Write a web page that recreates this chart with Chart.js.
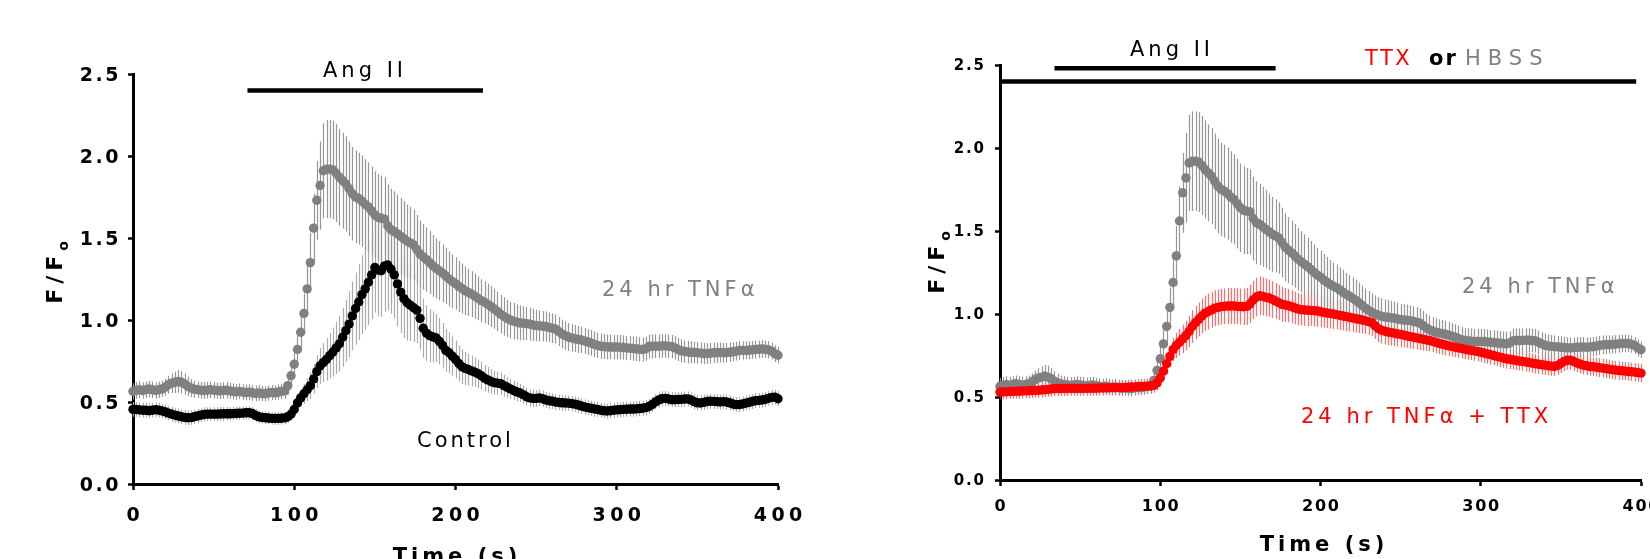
<!DOCTYPE html>
<html>
<head>
<meta charset="utf-8">
<script src="https://cdn.jsdelivr.net/npm/chart.js@4.4.1/dist/chart.umd.min.js"></script>
<style>
    html, body { margin: 0; padding: 0; background: #fff; width: 1650px; height: 559px; overflow: hidden; }
    canvas { position: absolute; top: 0; }
    #left { left: 0; }
    #right { left: 866px; }
</style>
</head>
<body>
<canvas id="left" width="866" height="559"></canvas>
<canvas id="right" width="800" height="559"></canvas>
<script>
// time axis, one sample every 2 s
const TIME = [
    0,2,4,6,8,10,12,14,16,18,20,22,24,26,28,30,32,34,36,38,
    40,42,44,46,48,50,52,54,56,58,60,62,64,66,68,70,72,74,76,78,
    80,82,84,86,88,90,92,94,96,98,100,102,104,106,108,110,112,114,116,118,
    120,122,124,126,128,130,132,134,136,138,140,142,144,146,148,150,152,154,156,158,
    160,162,164,166,168,170,172,174,176,178,180,182,184,186,188,190,192,194,196,198,
    200,202,204,206,208,210,212,214,216,218,220,222,224,226,228,230,232,234,236,238,
    240,242,244,246,248,250,252,254,256,258,260,262,264,266,268,270,272,274,276,278,
    280,282,284,286,288,290,292,294,296,298,300,302,304,306,308,310,312,314,316,318,
    320,322,324,326,328,330,332,334,336,338,340,342,344,346,348,350,352,354,356,358,
    360,362,364,366,368,370,372,374,376,378,380,382,384,386,388,390,392,394,396,398,
    400
];

// 24 hr TNFα (grey, same trace in both panels)
const TNF = [
    0.565,0.570,0.575,0.570,0.575,0.580,0.575,0.570,0.575,0.580,
    0.590,0.605,0.615,0.620,0.625,0.620,0.610,0.595,0.585,0.578,
    0.575,0.572,0.570,0.572,0.575,0.572,0.570,0.568,0.570,0.572,
    0.568,0.565,0.562,0.565,0.560,0.558,0.560,0.556,0.552,0.555,
    0.552,0.550,0.555,0.558,0.556,0.560,0.565,0.568,0.600,0.660,
    0.730,0.820,0.925,1.040,1.190,1.350,1.560,1.730,1.820,1.910,
    1.920,1.920,1.915,1.895,1.870,1.850,1.830,1.800,1.770,1.750,
    1.740,1.725,1.705,1.690,1.665,1.640,1.625,1.620,1.615,1.575,
    1.550,1.540,1.525,1.510,1.495,1.480,1.470,1.458,1.430,1.402,
    1.385,1.368,1.350,1.330,1.315,1.300,1.285,1.268,1.250,1.235,
    1.222,1.205,1.192,1.178,1.168,1.158,1.145,1.132,1.118,1.108,
    1.095,1.082,1.068,1.052,1.035,1.022,1.010,1.000,0.993,0.987,
    0.982,0.980,0.978,0.975,0.970,0.966,0.964,0.962,0.960,0.955,
    0.950,0.945,0.930,0.915,0.905,0.896,0.890,0.886,0.882,0.878,
    0.872,0.866,0.860,0.852,0.845,0.840,0.838,0.836,0.835,0.835,
    0.835,0.834,0.832,0.830,0.828,0.826,0.824,0.822,0.820,0.825,
    0.838,0.840,0.840,0.841,0.842,0.842,0.840,0.838,0.830,0.820,
    0.812,0.808,0.805,0.803,0.802,0.800,0.798,0.796,0.795,0.797,
    0.800,0.800,0.801,0.800,0.801,0.803,0.806,0.810,0.814,0.815,
    0.815,0.816,0.818,0.820,0.822,0.823,0.822,0.818,0.810,0.795,
    0.785
];
const TNF_SEM = [
    0.050,0.050,0.050,0.050,0.050,0.050,0.050,0.050,0.050,0.050,
    0.052,0.055,0.060,0.065,0.068,0.068,0.065,0.060,0.055,0.052,
    0.050,0.050,0.050,0.050,0.050,0.050,0.050,0.050,0.050,0.050,
    0.048,0.048,0.048,0.048,0.048,0.048,0.048,0.048,0.048,0.048,
    0.046,0.046,0.046,0.046,0.046,0.046,0.046,0.048,0.055,0.065,
    0.070,0.085,0.100,0.120,0.150,0.180,0.210,0.240,0.270,0.290,
    0.300,0.300,0.300,0.298,0.295,0.292,0.290,0.288,0.285,0.282,
    0.280,0.278,0.275,0.272,0.270,0.267,0.264,0.260,0.256,0.252,
    0.250,0.245,0.240,0.235,0.230,0.225,0.220,0.215,0.210,0.205,
    0.200,0.196,0.192,0.188,0.184,0.180,0.176,0.172,0.168,0.164,
    0.160,0.156,0.152,0.148,0.144,0.140,0.137,0.134,0.131,0.128,
    0.126,0.124,0.122,0.120,0.118,0.116,0.114,0.112,0.110,0.108,
    0.106,0.104,0.102,0.100,0.098,0.096,0.094,0.093,0.092,0.091,
    0.090,0.089,0.088,0.087,0.086,0.085,0.084,0.083,0.082,0.081,
    0.080,0.079,0.078,0.078,0.077,0.077,0.076,0.076,0.075,0.075,
    0.075,0.075,0.075,0.074,0.074,0.074,0.074,0.073,0.073,0.073,
    0.073,0.073,0.072,0.072,0.072,0.072,0.071,0.071,0.071,0.070,
    0.070,0.069,0.068,0.067,0.066,0.066,0.065,0.064,0.063,0.062,
    0.062,0.061,0.060,0.060,0.059,0.058,0.058,0.057,0.056,0.056,
    0.055,0.055,0.054,0.054,0.053,0.053,0.052,0.052,0.051,0.051,
    0.050
];

// Control (black, left panel)
const CONTROL = [
    0.455,0.455,0.452,0.450,0.450,0.447,0.450,0.453,0.450,0.446,
    0.440,0.432,0.425,0.420,0.415,0.410,0.406,0.404,0.405,0.410,
    0.415,0.420,0.424,0.426,0.426,0.426,0.426,0.427,0.428,0.428,
    0.428,0.429,0.430,0.431,0.432,0.434,0.434,0.430,0.418,0.410,
    0.406,0.404,0.402,0.400,0.400,0.400,0.401,0.403,0.410,0.425,
    0.455,0.495,0.525,0.550,0.575,0.600,0.640,0.685,0.720,0.740,
    0.760,0.783,0.805,0.830,0.855,0.895,0.935,0.975,1.025,1.070,
    1.110,1.155,1.190,1.230,1.275,1.320,1.305,1.300,1.330,1.335,
    1.310,1.275,1.220,1.170,1.130,1.105,1.090,1.075,1.060,1.010,
    0.950,0.920,0.905,0.897,0.890,0.870,0.845,0.815,0.800,0.780,
    0.760,0.735,0.715,0.705,0.698,0.690,0.682,0.672,0.660,0.645,
    0.635,0.625,0.618,0.615,0.612,0.600,0.590,0.580,0.570,0.562,
    0.555,0.545,0.532,0.525,0.522,0.522,0.525,0.520,0.512,0.508,
    0.505,0.500,0.497,0.495,0.494,0.493,0.490,0.487,0.482,0.476,
    0.470,0.466,0.462,0.458,0.455,0.450,0.447,0.445,0.447,0.450,
    0.452,0.453,0.455,0.456,0.457,0.457,0.458,0.460,0.462,0.466,
    0.473,0.485,0.500,0.512,0.520,0.522,0.518,0.514,0.514,0.515,
    0.516,0.518,0.518,0.512,0.502,0.495,0.494,0.498,0.503,0.505,
    0.504,0.502,0.500,0.502,0.500,0.495,0.488,0.484,0.484,0.488,
    0.493,0.498,0.503,0.508,0.510,0.512,0.515,0.522,0.528,0.530,
    0.520
];
const CONTROL_SEM = [
    0.045,0.045,0.045,0.045,0.045,0.045,0.045,0.045,0.045,0.045,
    0.045,0.045,0.045,0.045,0.045,0.045,0.045,0.045,0.045,0.045,
    0.042,0.042,0.042,0.042,0.042,0.042,0.042,0.042,0.042,0.042,
    0.040,0.040,0.040,0.040,0.040,0.040,0.040,0.040,0.040,0.040,
    0.038,0.038,0.038,0.038,0.038,0.038,0.038,0.038,0.038,0.038,
    0.040,0.045,0.050,0.060,0.070,0.080,0.090,0.100,0.110,0.120,
    0.130,0.140,0.150,0.160,0.170,0.180,0.190,0.200,0.210,0.220,
    0.230,0.240,0.250,0.260,0.270,0.275,0.280,0.280,0.280,0.275,
    0.270,0.265,0.260,0.250,0.240,0.230,0.220,0.210,0.200,0.190,
    0.180,0.170,0.162,0.155,0.148,0.142,0.136,0.130,0.125,0.120,
    0.115,0.110,0.106,0.102,0.098,0.094,0.090,0.087,0.084,0.081,
    0.078,0.075,0.072,0.070,0.068,0.066,0.064,0.062,0.060,0.058,
    0.056,0.055,0.054,0.053,0.052,0.051,0.050,0.050,0.049,0.049,
    0.048,0.048,0.048,0.048,0.048,0.047,0.047,0.047,0.047,0.047,
    0.046,0.046,0.046,0.046,0.046,0.046,0.046,0.046,0.046,0.046,
    0.046,0.046,0.046,0.046,0.046,0.046,0.046,0.046,0.046,0.046,
    0.046,0.046,0.046,0.046,0.046,0.046,0.046,0.046,0.046,0.046,
    0.046,0.046,0.046,0.046,0.046,0.046,0.046,0.046,0.046,0.046,
    0.045,0.045,0.045,0.045,0.045,0.045,0.045,0.045,0.045,0.045,
    0.045,0.045,0.045,0.045,0.045,0.045,0.045,0.045,0.045,0.045,
    0.045
];

// 24 hr TNFα + TTX (red, right panel)
const TNF_TTX = [
    0.530,0.531,0.532,0.533,0.534,0.535,0.535,0.536,0.537,0.538,
    0.539,0.540,0.541,0.542,0.544,0.546,0.548,0.550,0.551,0.551,
    0.551,0.551,0.552,0.552,0.552,0.552,0.552,0.552,0.553,0.553,
    0.553,0.554,0.554,0.555,0.555,0.556,0.556,0.557,0.557,0.558,
    0.559,0.560,0.561,0.562,0.563,0.564,0.565,0.566,0.570,0.585,
    0.615,0.655,0.700,0.745,0.785,0.810,0.830,0.850,0.870,0.895,
    0.925,0.948,0.968,0.988,1.005,1.015,1.025,1.035,1.040,1.044,
    1.046,1.048,1.048,1.048,1.046,1.045,1.044,1.046,1.060,1.085,
    1.102,1.110,1.106,1.100,1.096,1.088,1.078,1.068,1.058,1.054,
    1.050,1.044,1.036,1.030,1.026,1.024,1.023,1.022,1.020,1.018,
    1.014,1.010,1.006,1.003,1.000,0.996,0.992,0.988,0.984,0.980,
    0.976,0.972,0.968,0.964,0.960,0.954,0.948,0.930,0.912,0.902,
    0.897,0.892,0.888,0.884,0.880,0.877,0.873,0.868,0.864,0.860,
    0.856,0.852,0.848,0.844,0.840,0.835,0.829,0.823,0.818,0.813,
    0.808,0.804,0.800,0.796,0.792,0.788,0.784,0.781,0.778,0.774,
    0.770,0.765,0.760,0.755,0.750,0.745,0.740,0.735,0.730,0.727,
    0.724,0.720,0.717,0.714,0.711,0.708,0.704,0.700,0.697,0.694,
    0.692,0.689,0.686,0.684,0.690,0.702,0.714,0.721,0.722,0.714,
    0.705,0.698,0.692,0.688,0.684,0.682,0.680,0.677,0.674,0.671,
    0.668,0.665,0.662,0.660,0.658,0.656,0.654,0.652,0.650,0.647,
    0.644
];
const TNF_TTX_SEM = [
    0.045,0.045,0.045,0.045,0.045,0.045,0.045,0.045,0.045,0.045,
    0.045,0.045,0.045,0.045,0.045,0.045,0.045,0.045,0.045,0.045,
    0.045,0.045,0.045,0.045,0.045,0.045,0.045,0.045,0.045,0.045,
    0.045,0.045,0.045,0.045,0.045,0.045,0.045,0.045,0.045,0.045,
    0.045,0.045,0.045,0.045,0.045,0.045,0.045,0.045,0.045,0.045,
    0.050,0.055,0.060,0.065,0.070,0.075,0.080,0.085,0.090,0.095,
    0.098,0.100,0.102,0.104,0.106,0.108,0.108,0.108,0.108,0.108,
    0.108,0.108,0.108,0.108,0.108,0.109,0.110,0.112,0.114,0.115,
    0.116,0.116,0.115,0.114,0.112,0.110,0.108,0.106,0.104,0.102,
    0.100,0.099,0.098,0.097,0.096,0.096,0.095,0.095,0.095,0.095,
    0.094,0.093,0.092,0.091,0.090,0.089,0.088,0.087,0.086,0.085,
    0.084,0.083,0.082,0.082,0.081,0.081,0.080,0.080,0.080,0.080,
    0.080,0.079,0.078,0.077,0.076,0.075,0.074,0.073,0.072,0.071,
    0.070,0.069,0.068,0.067,0.066,0.065,0.064,0.064,0.063,0.063,
    0.062,0.062,0.061,0.061,0.060,0.060,0.060,0.060,0.060,0.060,
    0.060,0.060,0.060,0.060,0.059,0.059,0.059,0.059,0.059,0.059,
    0.058,0.058,0.058,0.058,0.058,0.058,0.058,0.058,0.058,0.058,
    0.058,0.058,0.058,0.058,0.057,0.057,0.057,0.057,0.057,0.057,
    0.056,0.056,0.056,0.056,0.056,0.056,0.056,0.056,0.056,0.056,
    0.056,0.056,0.056,0.056,0.055,0.055,0.055,0.055,0.055,0.055,
    0.055
];

const X_TICKS = [0, 100, 200, 300, 400];
const Y_TICKS = [0, 0.5, 1.0, 1.5, 2.0, 2.5];

// treatment bars: [start s, end s, F/Fo level]
const ANG_LEFT  = [71, 217, 2.4];
const ANG_RIGHT = [34, 172, 2.48];
const TTX_BAR   = [0, 397, 2.4];

const FONT = '"DejaVu Sans", sans-serif';

function points(values) {
    return TIME.map((t, i) => ({ x: t, y: values[i] }));
}

function text(ctx, str, x, y, size, color, spacing, align, weight) {
    ctx.save();
    ctx.font = (weight || 'normal') + ' ' + size + 'px ' + FONT;
    ctx.fillStyle = color;
    ctx.letterSpacing = spacing + 'px';
    ctx.textAlign = align || 'left';
    ctx.textBaseline = 'alphabetic';
    const shift = align === 'center' ? spacing / 2 : align === 'right' ? spacing : 0;
    ctx.fillText(str, x + shift, y);
    ctx.restore();
}

function yTitle(ctx, bx, cy) {
    ctx.save();
    ctx.translate(bx, cy);
    ctx.rotate(-Math.PI / 2);
    ctx.fillStyle = '#000';
    ctx.letterSpacing = '5px';
    ctx.font = 'bold 22px ' + FONT;
    const w1 = ctx.measureText('F/F').width;
    ctx.font = 'bold 14px ' + FONT;
    const w2 = ctx.measureText('o').width;
    const x0 = -(w1 + w2) / 2;
    ctx.font = 'bold 22px ' + FONT;
    ctx.fillText('F/F', x0, 0);
    ctx.font = 'bold 14px ' + FONT;
    ctx.fillText('o', x0 + w1, 6);
    ctx.restore();
}

function bar(chart, b) {
    const { ctx, scales: { x, y } } = chart;
    const py = y.getPixelForValue(b[2]);
    ctx.save();
    ctx.strokeStyle = '#000';
    ctx.lineWidth = 4.5;
    ctx.beginPath();
    ctx.moveTo(x.getPixelForValue(b[0]), py);
    ctx.lineTo(x.getPixelForValue(b[1]), py);
    ctx.stroke();
    ctx.restore();
}

// SEM whiskers under the dots
const errorBars = {
    id: 'errorBars',
    beforeDatasetsDraw(chart) {
        const { ctx, scales: { x, y } } = chart;
        ctx.save();
        ctx.lineWidth = 1.2;
        chart.data.datasets.forEach(ds => {
            ctx.strokeStyle = ds.semColor;
            ctx.beginPath();
            ds.data.forEach((p, i) => {
                const px = Math.round(x.getPixelForValue(p.x)) + 0.5;
                ctx.moveTo(px, y.getPixelForValue(p.y + ds.sem[i]));
                ctx.lineTo(px, y.getPixelForValue(p.y - ds.sem[i]));
            });
            ctx.stroke();
        });
        ctx.restore();
    }
};

// tick labels, titles, bars and series names
function decor(cfg) {
    return {
        id: 'decor',
        afterDraw(chart) {
            const { ctx, scales: { x, y } } = chart;
            const o = cfg.offset;
            y.ticks.forEach(t => {
                text(ctx, t.value.toFixed(1), cfg.yRight - o, y.getPixelForValue(t.value) + cfg.yFont * 0.365,
                    cfg.yFont, '#000', cfg.ySpace, 'right', 'bold');
            });
            x.ticks.forEach(t => {
                text(ctx, String(t.value), x.getPixelForValue(t.value), cfg.xBase,
                    cfg.xFont, '#000', cfg.xSpace, 'center', 'bold');
            });
            yTitle(ctx, cfg.yTitle[0] - o, cfg.yTitle[1]);
            text(ctx, 'Time (s)', cfg.xTitle[0] - o, cfg.xTitle[1], 21, '#000', 4, 'center', 'bold');
            cfg.bars.forEach(b => bar(chart, b));
            cfg.labels.forEach(l => text(ctx, l[0], l[1] - o, l[2], 21, l[3], l[4], l[5] || 'left', l[6]));
        }
    };
}

function panel(id, datasets, area, cfg) {
    new Chart(document.getElementById(id), {
        type: 'scatter',
        data: { datasets },
        options: {
            responsive: false,
            animation: false,
            devicePixelRatio: 1,
            layout: { padding: { left: 0, top: area.top, right: area.right, bottom: 0 } },
            plugins: { legend: { display: false }, tooltip: { enabled: false } },
            scales: {
                x: {
                    type: 'linear', min: 0, max: 400,
                    afterBuildTicks: s => { s.ticks = X_TICKS.map(v => ({ value: v })); },
                    afterFit: s => { s.height = area.xHeight; s.paddingLeft = 0; s.paddingRight = 0; },
                    ticks: { display: false },
                    grid: { drawOnChartArea: false, tickLength: 6, tickWidth: 2.5, tickColor: '#000' },
                    border: { display: true, width: 3, color: '#000' },
                },
                y: {
                    type: 'linear', min: 0, max: 2.5,
                    afterBuildTicks: s => { s.ticks = Y_TICKS.map(v => ({ value: v })); },
                    afterFit: s => { s.width = area.yWidth; s.paddingTop = 0; s.paddingBottom = 0; },
                    ticks: { display: false },
                    grid: { drawOnChartArea: false, tickLength: 5, tickWidth: 2.5, tickColor: '#000' },
                    border: { display: true, width: 3, color: '#000' },
                }
            }
        },
        plugins: [errorBars, decor(cfg)]
    });
}

const dot = { pointRadius: 4.7, pointHoverRadius: 4.7, pointBorderWidth: 0, showLine: false, clip: false };

// Left panel: Control vs 24 hr TNFα
panel('left', [
    { ...dot, data: points(CONTROL), sem: CONTROL_SEM, semColor: '#ababab', pointBackgroundColor: '#000' },
    { ...dot, data: points(TNF), sem: TNF_SEM, semColor: '#969696', pointBackgroundColor: '#808080' },
], { top: 74, right: 88, xHeight: 75, yWidth: 133 }, {
    offset: 0,
    yRight: 118.5, yFont: 19, ySpace: 2.5,
    xBase: 521, xFont: 19, xSpace: 4.5,
    yTitle: [62, 270], xTitle: [455, 563],
    bars: [ANG_LEFT],
    labels: [
        ['Ang II', 363, 77, '#000', 4, 'center'],
        ['24 hr TNFα', 602, 296, '#808080', 4],
        ['Control', 417, 447, '#000', 3],
    ]
});

// Right panel: 24 hr TNFα vs 24 hr TNFα + TTX
panel('right', [
    { ...dot, data: points(TNF_TTX), sem: TNF_TTX_SEM, semColor: 'rgba(255,30,30,0.65)', pointBackgroundColor: '#ff0000' },
    { ...dot, data: points(TNF), sem: TNF_SEM, semColor: '#969696', pointBackgroundColor: '#808080' },
], { top: 65, right: 25, xHeight: 79, yWidth: 134 }, {
    offset: 866,
    yRight: 984, yFont: 15, ySpace: 1.8,
    xBase: 511, xFont: 16, xSpace: 1.8,
    yTitle: [944, 260], xTitle: [1322, 551],
    bars: [ANG_RIGHT, TTX_BAR],
    labels: [
        ['Ang II', 1170, 56, '#000', 4, 'center'],
        ['TTX', 1365, 65, '#ff0000', 2.5],
        ['or', 1429, 65, '#000', 2, 'left', 'bold'],
        ['HBSS', 1465, 65, '#808080', 7],
        ['24 hr TNFα', 1462, 293, '#808080', 4],
        ['24 hr TNFα + TTX', 1301, 423, '#ff0000', 4],
    ]
});
</script>
</body>
</html>
